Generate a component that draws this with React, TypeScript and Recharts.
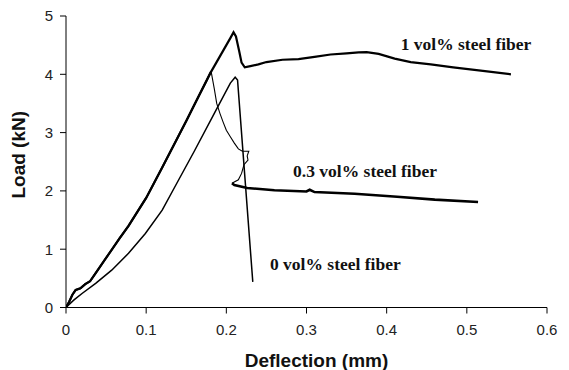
import React from 'react';
import { LineChart, Line, XAxis, YAxis, ReferenceDot } from 'recharts';

// Deflection (mm) / Load (kN)
const fiber1X = [0, 0.004, 0.008, 0.012, 0.018, 0.024, 0.03, 0.037, 0.047, 0.057, 0.067, 0.078, 0.089, 0.1, 0.11, 0.12, 0.135, 0.15, 0.165, 0.18, 0.19, 0.2, 0.205, 0.209, 0.212, 0.216, 0.219, 0.223, 0.23, 0.24, 0.25, 0.27, 0.29, 0.31, 0.33, 0.35, 0.365, 0.375, 0.39, 0.41, 0.43, 0.455, 0.483, 0.52, 0.555];
const fiber1Y = [0, 0.1, 0.22, 0.3, 0.33, 0.4, 0.45, 0.59, 0.79, 0.99, 1.19, 1.4, 1.64, 1.88, 2.14, 2.4, 2.8, 3.2, 3.61, 4.02, 4.26, 4.5, 4.62, 4.72, 4.65, 4.4, 4.2, 4.12, 4.14, 4.17, 4.21, 4.25, 4.26, 4.3, 4.34, 4.36, 4.375, 4.38, 4.35, 4.27, 4.21, 4.17, 4.12, 4.06, 4.0];

const fiber03X = [0, 0.004, 0.008, 0.012, 0.018, 0.024, 0.03, 0.037, 0.047, 0.057, 0.067, 0.078, 0.089, 0.1, 0.11, 0.12, 0.135, 0.15, 0.165, 0.175, 0.181, 0.185, 0.188, 0.192, 0.196, 0.2, 0.205, 0.21, 0.215, 0.22, 0.228, 0.226, 0.227, 0.222, 0.219, 0.215, 0.207, 0.21, 0.226, 0.26, 0.3, 0.304, 0.31, 0.36, 0.413, 0.46, 0.514];
const fiber03Y = [0, 0.1, 0.22, 0.3, 0.33, 0.4, 0.45, 0.59, 0.79, 0.99, 1.19, 1.4, 1.64, 1.88, 2.14, 2.4, 2.8, 3.2, 3.61, 3.88, 4.05, 3.75, 3.5, 3.33, 3.18, 3.04, 2.93, 2.82, 2.72, 2.68, 2.68, 2.6, 2.53, 2.45, 2.3, 2.19, 2.13, 2.1, 2.05, 2.01, 1.99, 2.02, 1.98, 1.95, 1.9, 1.85, 1.81];
const fiber03PeakIdx = 20;
const fiber03FlatIdx = 36;

const fiber0X = [0, 0.01, 0.02, 0.037, 0.057, 0.078, 0.099, 0.12, 0.135, 0.16, 0.185, 0.205, 0.211, 0.214, 0.233];
const fiber0Y = [0, 0.13, 0.24, 0.415, 0.64, 0.93, 1.27, 1.67, 2.05, 2.68, 3.33, 3.85, 3.95, 3.9, 0.44];

const xTicks = [0, 0.1, 0.2, 0.3, 0.4, 0.5, 0.6];
const yTicks = [0, 1, 2, 3, 4, 5];

const labelTexts = ['1 vol% steel fiber', '0.3 vol% steel fiber', '0 vol% steel fiber'];
const labelX = [0.499, 0.373, 0.336];
const labelY = [4.52, 2.34, 0.75];

const toPts = (xs: number[], ys: number[]) => xs.map((x, i) => ({ x, y: ys[i] }));

const fiber1 = toPts(fiber1X, fiber1Y);
const fiber03 = toPts(fiber03X, fiber03Y);
const fiber0 = toPts(fiber0X, fiber0Y);

const tickStyle = { fill: '#222', fontSize: 15, fontFamily: 'Liberation Sans, Arial, sans-serif' };

export default function App() {
  return (
    <div style={{ position: 'absolute', left: 0, top: 0, background: '#fff' }}>
      <LineChart width={569} height={370} margin={{ top: 16, right: 22, left: 0, bottom: 0 }}>
        <XAxis
          type="number"
          dataKey="x"
          domain={[0, 0.6]}
          ticks={xTicks}
          allowDataOverflow
          height={62.5}
          tickSize={6}
          tickMargin={11}
          stroke="#000"
          tick={tickStyle}
          label={{
            content: (p: any) => (
              <text
                x={p.viewBox.x + p.viewBox.width / 2 + 10}
                y={p.viewBox.y + 59.5}
                textAnchor="middle"
                fontFamily="Liberation Sans, Arial, sans-serif"
                fontWeight="bold"
                fontSize={19}
                fill="#111"
              >
                Deflection (mm)
              </text>
            ),
          }}
        />
        <YAxis
          type="number"
          dataKey="y"
          domain={[0, 5]}
          ticks={yTicks}
          width={66}
          tickSize={6}
          tickMargin={7}
          stroke="#000"
          tick={tickStyle}
          label={{
            content: (p: any) => {
              const cx = p.viewBox.x + 18;
              const cy = p.viewBox.y + p.viewBox.height / 2 - 7;
              return (
                <text
                  x={cx}
                  y={cy}
                  transform={`rotate(-90 ${cx} ${cy})`}
                  textAnchor="middle"
                  dominantBaseline="central"
                  fontFamily="Liberation Sans, Arial, sans-serif"
                  fontWeight="bold"
                  fontSize={19}
                  fill="#111"
                >
                  Load (kN)
                </text>
              );
            },
          }}
        />
        <Line data={fiber0} dataKey="y" type="linear" stroke="#000" strokeWidth={1.5} dot={false} isAnimationActive={false} />
        <Line data={fiber03.slice(0, fiber03PeakIdx + 1)} dataKey="y" type="linear" stroke="#000" strokeWidth={2} dot={false} isAnimationActive={false} />
        <Line data={fiber03.slice(fiber03PeakIdx, fiber03FlatIdx + 1)} dataKey="y" type="linear" stroke="#000" strokeWidth={1.1} dot={false} isAnimationActive={false} />
        <Line data={fiber03.slice(fiber03FlatIdx)} dataKey="y" type="linear" stroke="#000" strokeWidth={2.6} dot={false} isAnimationActive={false} />
        <Line data={fiber1} dataKey="y" type="linear" stroke="#000" strokeWidth={2.2} dot={false} isAnimationActive={false} />
        {labelTexts.map((t, i) => (
          <ReferenceDot
            key={t}
            x={labelX[i]}
            y={labelY[i]}
            r={0}
            fill="none"
            stroke="none"
            label={{
              value: t,
              position: 'center',
              fill: '#111',
              fontSize: 17.5,
              fontWeight: 'bold',
              fontFamily: 'Liberation Serif, Times New Roman, serif',
            }}
          />
        ))}
      </LineChart>
    </div>
  );
}
